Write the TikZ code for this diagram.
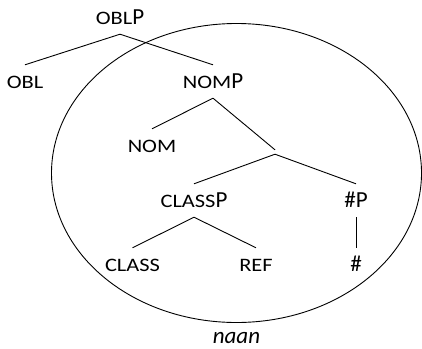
\documentclass[tikz,border=0pt]{standalone}
\usepackage{fontspec}
\setmainfont{Carlito}
\newfontfamily\scfont[FakeStretch=1.18]{Carlito}
\newcommand{\smc}[1]{{\scfont\fontsize{19}{19}\selectfont #1}}
\begin{document}
\begin{tikzpicture}[x=1pt,y=-1pt,
  lab/.style={anchor=base, font=\fontsize{23}{23}\selectfont, inner xsep=0pt, inner ysep=8pt, text height=15pt, text depth=2pt},
  branch/.style={draw=black, line width=0.9pt},
  hub/.style={inner sep=2pt, minimum size=0pt}]
\useasboundingbox (0,0) rectangle (422,348);
\draw[line width=0.9pt] (236.5,173) ellipse [x radius=185, y radius=149.5];
\node[lab] (oblp) at (120,24) {\smc{OBL}P};
\node[lab] (obl) at (25,88) {\smc{OBL}};
\node[lab] (nomp) at (213,88) {\smc{NOM}P};
\node[lab] (nom) at (152,152) {\smc{NOM}};
\node[hub] (mid) at (275,152) {};
\node[lab] (classp) at (194,207) {\smc{CLASS}P};
\node[lab] (hashp) at (356,207) {\#P};
\node[lab] (class) at (132.5,271) {\smc{CLASS}};
\node[lab] (ref) at (256,271) {\smc{REF}};
\node[lab] (hash) at (356,271) {\#};
\node[anchor=base, font=\fontsize{23}{23}\selectfont\itshape, inner sep=0pt] (naan) at (236.5,343.5) {naan};
\draw[branch] (oblp.south) -- (obl.north);
\draw[branch] (oblp.south) -- (nomp.north);
\draw[branch] (nomp.south) -- (nom.north);
\draw[branch] (nomp.south) -- (mid.north);
\draw[branch] (mid.south) -- (classp.north);
\draw[branch] (mid.south) -- (hashp.north);
\draw[branch] (classp.south) -- (class.north);
\draw[branch] (classp.south) -- (ref.north);
\draw[branch] (hashp.south) -- (hash.north);
\end{tikzpicture}
\end{document}
